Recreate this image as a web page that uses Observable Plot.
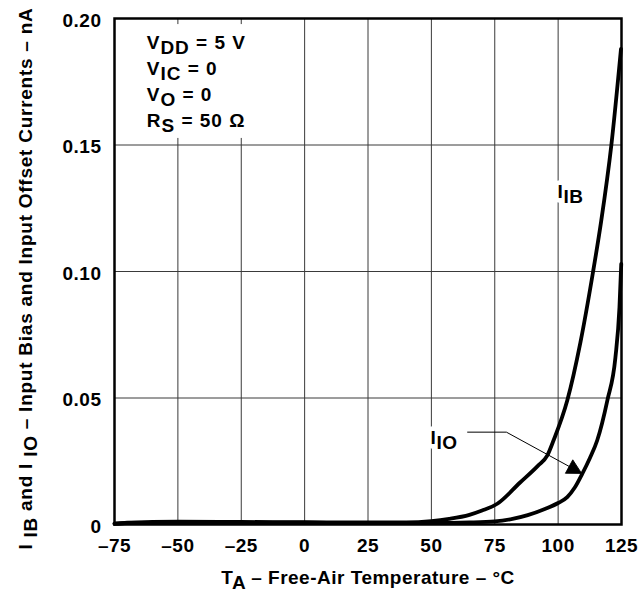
<!DOCTYPE html>
<html>
<head>
<meta charset="utf-8">
<script src="https://cdn.jsdelivr.net/npm/d3@7"></script>
<script src="https://cdn.jsdelivr.net/npm/@observablehq/plot@0.6"></script>
<style>
  html, body { margin: 0; padding: 0; background: #fff; }
</style>
</head>
<body>
<div id="chart"></div>
<script>
// ---- data ----
const temperatureTicks = [-75, -50, -25, 0, 25, 50, 75, 100, 125];
const currentTicks = [0, 0.05, 0.10, 0.15, 0.20];

const ibTemp    = [-75, -70, -60, -50, -25, 0, 25, 40, 50, 57, 65, 70, 76, 85, 92, 95.7, 98.3, 103.6, 108.8, 113.8, 117, 121, 124.8];
const ibCurrent = [0.0003, 0.0007, 0.0010, 0.0011, 0.0010, 0.0009, 0.0008, 0.0008, 0.0013, 0.0022, 0.0038, 0.0055, 0.0082, 0.0166, 0.0232, 0.0272, 0.0335, 0.049, 0.072, 0.100, 0.120, 0.150, 0.188];

const ioTemp    = [-75, -70, -60, -50, 0, 25, 50, 65, 75, 82, 88, 95, 100, 103.6, 106.5, 109.5, 112.5, 115.4, 119.4, 122.6, 124.2, 124.9];
const ioCurrent = [0.0003, 0.0006, 0.0008, 0.0008, 0.0007, 0.0006, 0.0006, 0.0008, 0.0012, 0.0022, 0.0037, 0.0062, 0.0085, 0.0108, 0.0145, 0.0200, 0.0262, 0.0332, 0.049, 0.066, 0.0859, 0.103];

const xTitle = "T_{A} – Free-Air Temperature – °C";
const yTitle = "I _{IB} and I _{IO} – Input Bias and Input Offset Currents – nA";

const conditions = ["V_{DD} = 5 V", "V_{IC} = 0", "V_{O} = 0", "R_{S} = 50 Ω"];
const conditionsTemp = -62.3;
const conditionsCurrent = 0.1952;
const conditionsBoxTemp = [-65, -20];
const conditionsBoxCurrent = [0.1526, 0.1976];

const curveLabels = ["I_{IB}", "I_{IO}"];
const curveLabelTemp = [99.8, 49.7];
const curveLabelCurrent = [0.1313, 0.0344];

const leaderTemp = [64.3, 79.6, 109.2];
const leaderCurrent = [0.0365, 0.0365, 0.0203];

// ---- tables ----
const ib = ibTemp.map((t, i) => ({t, v: ibCurrent[i]}));
const io = ioTemp.map((t, i) => ({t, v: ioCurrent[i]}));
const leader = leaderTemp.map((t, i) => ({t, v: leaderCurrent[i]}));
const box = [{x1: conditionsBoxTemp[0], x2: conditionsBoxTemp[1], y1: conditionsBoxCurrent[0], y2: conditionsBoxCurrent[1]}];
const arrowTip = [leader[leader.length - 1]];

const FONT = "'Liberation Sans', Arial, Helvetica, sans-serif";
const GRID = "#3a3a3a";

const triangleHead = {
  draw(context, l, r) {
    context.moveTo(0, -l);
    context.lineTo(-r, 0);
    context.lineTo(r, 0);
    context.closePath();
  }
};

const fmtX = d => d < 0 ? "–" + Math.abs(d) : String(d);
const fmtY = d => d === 0 ? "0" : d.toFixed(2);

const chart = Plot.plot({
  width: 644,
  height: 592,
  marginTop: 18,
  marginRight: 23,
  marginBottom: 68,
  marginLeft: 114,
  style: {fontFamily: FONT, fontSize: "19px", fontWeight: "bold", color: "black", background: "white", overflow: "visible", letterSpacing: "0.5px"},
  x: {domain: [-75, 125]},
  y: {domain: [0, 0.2]},
  marks: [
    Plot.gridX(temperatureTicks, {stroke: GRID, strokeOpacity: 1, strokeWidth: 1}),
    Plot.gridY(currentTicks, {stroke: GRID, strokeOpacity: 1, strokeWidth: 1}),
    Plot.rect(box, {x1: "x1", x2: "x2", y1: "y1", y2: "y2", fill: "white"}),
    Plot.line(ib, {x: "t", y: "v", curve: "monotone-x", stroke: "black", strokeWidth: 3.8}),
    Plot.line(io, {x: "t", y: "v", curve: "monotone-x", stroke: "black", strokeWidth: 3.8}),
    Plot.line(leader, {x: "t", y: "v", stroke: "black", strokeWidth: 1}),
    Plot.vector(arrowTip, {x: "t", y: "v", length: 14, r: 7.5, rotate: 118.7, anchor: "end", shape: triangleHead, fill: "black", stroke: "black", strokeWidth: 0.8}),
    // white halo behind curve labels, then the labels themselves
    Plot.text(curveLabels, {x: curveLabelTemp, y: curveLabelCurrent, text: d => d, textAnchor: "start", fill: "white", stroke: "white", strokeWidth: 9}),
    Plot.text(curveLabels, {x: curveLabelTemp, y: curveLabelCurrent, text: d => d, textAnchor: "start", fill: "black"}),
    Plot.text([conditions.join("\n")], {x: [conditionsTemp], y: [conditionsCurrent], text: d => d, textAnchor: "start", lineAnchor: "top", lineHeight: 1.37, fill: "black", className: "conds"}),
    Plot.frame({stroke: "black", strokeWidth: 2.5}),
    Plot.axisX({ticks: temperatureTicks, tickSize: 0, tickPadding: 14, tickFormat: fmtX, label: null}),
    Plot.axisY({ticks: currentTicks, tickSize: 0, tickPadding: 13, tickFormat: fmtY, label: null, dy: 2}),
    Plot.text([xTitle], {frameAnchor: "bottom", textAnchor: "middle", lineAnchor: "middle", dy: 53, text: d => d, fill: "black"}),
    Plot.text([yTitle], {frameAnchor: "left", textAnchor: "middle", lineAnchor: "middle", rotate: -90, dx: -89, dy: 7, text: d => d, fill: "black", className: "ytitle"})
  ]
});

// ---- turn _{...} markup into subscripts ----
const SUB_SHIFT = 5;
function subscriptify(el) {
  const s = el.textContent;
  if (!s.includes("_{")) return;
  while (el.firstChild) el.removeChild(el.firstChild);
  const NS = "http://www.w3.org/2000/svg";
  const re = /_\{([^}]*)\}/g;
  let last = 0, m, pendingReset = false;
  const addPlain = str => {
    if (!str.length) return;
    if (pendingReset) {
      const t = document.createElementNS(NS, "tspan");
      t.setAttribute("dy", -SUB_SHIFT);
      t.textContent = str;
      el.appendChild(t);
      pendingReset = false;
    } else {
      el.appendChild(document.createTextNode(str));
    }
  };
  while ((m = re.exec(s))) {
    addPlain(s.slice(last, m.index));
    const sub = document.createElementNS(NS, "tspan");
    sub.setAttribute("dy", SUB_SHIFT);
    sub.textContent = m[1];
    el.appendChild(sub);
    pendingReset = true;
    last = re.lastIndex;
  }
  addPlain(s.slice(last));
}
chart.querySelectorAll("text, tspan").forEach(el => {
  if (el.children.length === 0) subscriptify(el);
});
chart.querySelectorAll("g[class*='ytitle'] text").forEach(el => el.style.letterSpacing = "0.75px");
chart.querySelectorAll("g[class*='conds'] text").forEach(el => el.style.letterSpacing = "1px");

document.getElementById("chart").appendChild(chart);
</script>
</body>
</html>
